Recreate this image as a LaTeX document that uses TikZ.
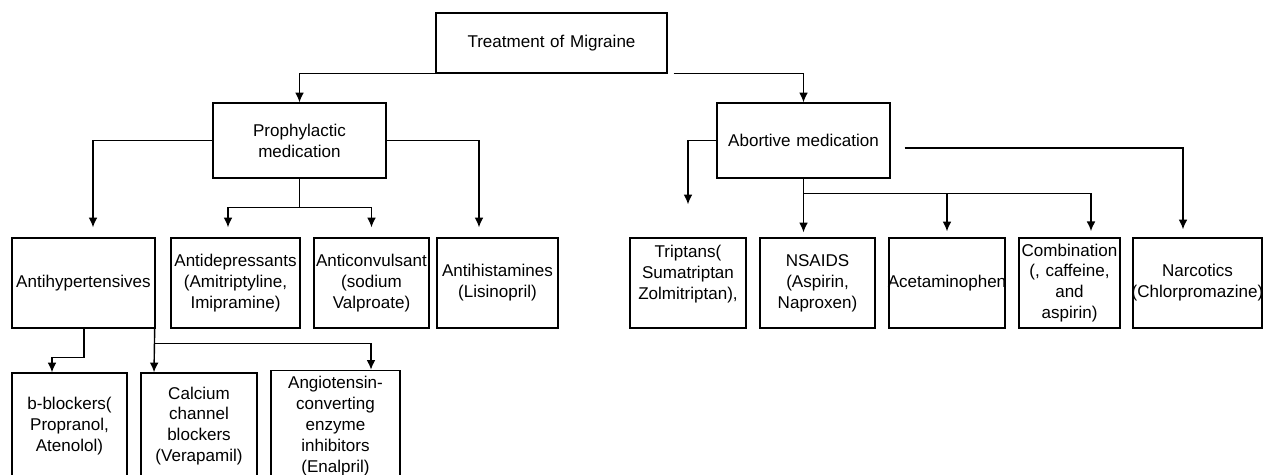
\documentclass[tikz,border=0pt]{standalone}
\usepackage{fontspec}
\setmainfont{Liberation Sans}
\usetikzlibrary{arrows.meta,calc}

\tikzset{
  box/.style={draw, thick, align=center, inner xsep=0pt, font=\fontsize{9.7}{11.9}\selectfont},
  row/.style={box, minimum height=1.8cm},
  low/.style={box, minimum height=2.12cm},
  link/.style={thick, -{Latex[length=5.5pt,width=5pt]}}
}

\begin{document}
\begin{tikzpicture}[x=0.02cm, y=-0.02cm]
    \useasboundingbox (0,0) rectangle (1264,474);

    \node[box, text width=4.62cm, minimum height=1.2cm] (root) at (551.5,43) {Treatment of Migraine};

    \node[box, text width=3.46cm, minimum height=1.5cm] (proph) at (299.5,140.5) {Prophylactic\\medication};
    \node[box, text width=3.46cm, minimum height=1.5cm] (abort) at (803.5,140.5) {Abortive medication};

    \node[row, text width=2.86cm] (antihyp) at (83.5,283) {Antihypertensives};
    \node[row, text width=2.58cm] (antidep) at (235.5,283) {Antidepressants\\(Amitriptyline,\\Imipramine)};
    \node[row, text width=2.30cm] (anticonv) at (371.5,283) {Anticonvulsant\\(sodium\\Valproate)};
    \node[row, text width=2.42cm] (antihist) at (497.5,283) {Antihistamines\\(Lisinopril)};

    \node[row, text width=2.32cm] (tript) at (688,283) {Triptans(\\Sumatriptan\\Zolmitriptan),\\\mbox{}};
    \node[row, text width=2.30cm] (nsaid) at (817.5,283) {NSAIDS\\(Aspirin,\\Naproxen)};
    \node[row, text width=2.32cm] (acet) at (947,283) {\makebox[0pt]{Acetaminophen}};
    \node[row, text width=2.02cm] (combi) at (1069.5,283) {Combination\\(, caffeine,\\and\\aspirin)};
    \node[row, text width=2.58cm] (narc) at (1197.5,283) {Narcotics\\\makebox[0pt]{(Chlorpromazine)}};

    \node[low, text width=2.30cm] (bbl) at (69.5,426) {b-blockers(\\Propranol,\\Atenolol)};
    \node[low, text width=2.32cm] (calc) at (199,426) {Calcium\\channel\\blockers\\(Verapamil)};
    \node[low, text width=2.58cm] (angio) at (335.5,426) {Angiotensin-\\converting\\enzyme\\inhibitors\\(Enalpril)};

    \draw[link] (root.south west) -| (proph.north);
    \draw[link] ($(root.south east)+(6,0)$) -| (abort.north);

    \draw[link] (proph.west) -| ($(antihyp.north)+(9.5,-10)$);
    \draw[link] (proph.east) -| ($(antihist.north)+(-18.5,-10)$);
    \draw[link] (proph.south) -- ++(0,29) -| ($(antidep.north)+(-7.5,-10)$);
    \draw[link] (proph.south) -- ++(0,29) -| ($(anticonv.north)+(0,-10)$);

    \draw[link] (abort.west) -| ($(tript.north)+(0,-33)$);
    \draw[link] ($(abort.east)+(14,7.5)$) -| ($(narc.north)+(-14.5,-8)$);
    \draw[link] (abort.south) -- ($(abort.south |- nsaid.north)+(0,-5)$);
    \draw[link] (abort.south) -- ++(0,15) -| ($(acet.north)+(0,-6)$);
    \draw[link] (abort.south) -- ++(0,15) -| ($(combi.north)+(21.5,-6)$);

    \draw[link] ($(antihyp.south)+(0.5,0)$) -- ++(0,29) -| ($(bbl.north)+(-17.5,0)$);
    \draw[link] ($(antihyp.south east)+(-1,0)$) -- ($(calc.north)+(-45,0)$);
    \draw[link] ($(antihyp.south east)+(-1,0)$) -- ++(0,15) -| ($(angio.north)+(35.5,0)$);

\end{tikzpicture}
\end{document}
